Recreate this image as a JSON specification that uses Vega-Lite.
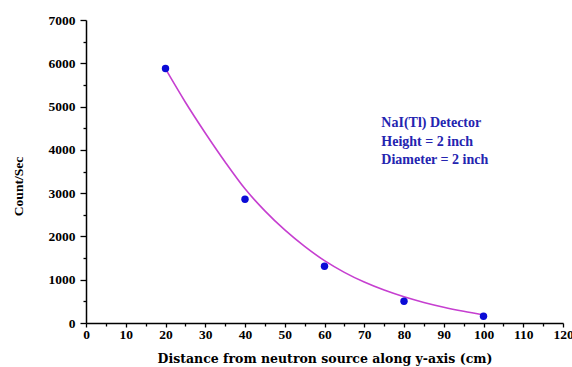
{
  "$schema": "https://vega.github.io/schema/vega-lite/v6.json",
  "width": 477,
  "height": 303,
  "autosize": {"type": "none"},
  "padding": {"left": 86, "top": 20, "right": 9, "bottom": 44},
  "background": "white",
  "config": {
    "view": {"stroke": null},
    "axis": {
      "domainColor": "black",
      "domainWidth": 1.5,
      "tickColor": "black",
      "tickWidth": 1.3,
      "grid": false,
      "labelFont": "Liberation Serif",
      "labelFontWeight": "bold",
      "labelFontSize": 13.5,
      "labelColor": "black",
      "titleFont": "Liberation Serif",
      "titleFontWeight": "bold",
      "titleFontSize": 13.5,
      "titleColor": "black"
    }
  },
  "datasets": {
    "measured": [
      {"distance": 20, "rate": 5880},
      {"distance": 40, "rate": 2860},
      {"distance": 60, "rate": 1310},
      {"distance": 80, "rate": 502},
      {"distance": 100, "rate": 155}
    ],
    "fit": [
      {"distance": 20, "rate": 5870},
      {"distance": 25, "rate": 5100},
      {"distance": 30, "rate": 4390},
      {"distance": 35, "rate": 3720},
      {"distance": 40, "rate": 3100},
      {"distance": 45, "rate": 2590},
      {"distance": 50, "rate": 2150},
      {"distance": 55, "rate": 1770},
      {"distance": 60, "rate": 1440},
      {"distance": 65, "rate": 1170},
      {"distance": 70, "rate": 945},
      {"distance": 75, "rate": 760},
      {"distance": 80, "rate": 605},
      {"distance": 85, "rate": 475},
      {"distance": 90, "rate": 365},
      {"distance": 95, "rate": 270},
      {"distance": 100, "rate": 185}
    ],
    "note": [
      {"distance": 74.3, "rate": 4530, "line": "NaI(Tl) Detector"},
      {"distance": 74.3, "rate": 4080, "line": "Height = 2 inch"},
      {"distance": 74.3, "rate": 3670, "line": "Diameter = 2 inch"}
    ]
  },
  "encoding": {
    "x": {
      "field": "distance",
      "type": "quantitative",
      "scale": {"domain": [0, 120], "nice": false, "zero": false},
      "axis": {
        "title": "Distance from neutron source along y-axis (cm)",
        "titleFont": "DejaVu Serif",
        "titleFontSize": 12.5,
        "values": [0, 5, 10, 15, 20, 25, 30, 35, 40, 45, 50, 55, 60, 65, 70, 75, 80, 85, 90, 95, 100, 105, 110, 115, 120],
        "labelExpr": "datum.value % 10 === 0 ? datum.label : ''",
        "tickSize": {"condition": {"test": "datum.value % 10 === 0", "value": 4}, "value": 3},
        "labelPadding": 0,
        "labelFlush": false,
        "labelOverlap": false,
        "titlePadding": 12
      }
    },
    "y": {
      "field": "rate",
      "type": "quantitative",
      "scale": {"domain": [0, 7000], "nice": false},
      "axis": {
        "title": "Count/Sec",
        "values": [0, 500, 1000, 1500, 2000, 2500, 3000, 3500, 4000, 4500, 5000, 5500, 6000, 6500, 7000],
        "format": "d",
        "labelExpr": "datum.value % 1000 === 0 ? datum.label : ''",
        "tickSize": {"condition": {"test": "datum.value % 1000 === 0", "value": 6}, "value": 3},
        "labelPadding": 5,
        "labelOverlap": false,
        "titleAngle": -90,
        "titleX": -68,
        "titleY": 166,
        "titleAlign": "center",
        "titleBaseline": "middle"
      }
    }
  },
  "layer": [
    {
      "data": {"name": "fit"},
      "mark": {"type": "line", "color": "#c63fd0", "strokeWidth": 1.6, "interpolate": "monotone"}
    },
    {
      "data": {"name": "measured"},
      "mark": {"type": "point", "filled": true, "shape": "circle", "size": 55, "color": "#0b0bd6", "opacity": 1}
    },
    {
      "data": {"name": "note"},
      "mark": {"type": "text", "align": "left", "baseline": "alphabetic", "font": "Liberation Serif", "fontWeight": "bold", "fontSize": 14, "color": "#2424b0"},
      "encoding": {"text": {"field": "line", "type": "nominal"}}
    }
  ]
}
